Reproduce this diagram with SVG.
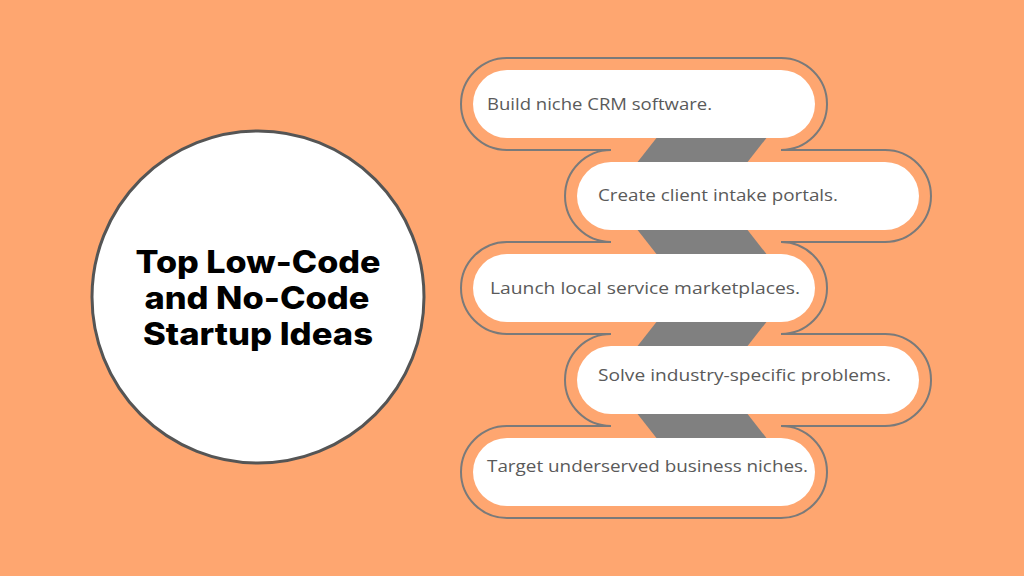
<svg xmlns="http://www.w3.org/2000/svg" width="1024" height="576" viewBox="0 0 1024 576">
<style>
.out{fill:none;stroke:#7a7a7a;stroke-width:2}
.pill{fill:#ffffff}
.band{fill:#808080}
.lbl{font-family:"Open Sans","Liberation Sans",sans-serif;font-size:17px;fill:#5a5a5a}
.ttl{font-family:Inter,"Liberation Sans",sans-serif;font-size:31px;font-weight:800;fill:#000000;text-anchor:middle}
</style>
<rect width="1024" height="576" fill="#fea670"/>
<g id="center">
<circle cx="258" cy="297" r="166" fill="#ffffff" stroke="#555555" stroke-width="3"/>
<text class="ttl" x="258" y="273" textLength="245" lengthAdjust="spacingAndGlyphs">Top Low-Code</text>
<text class="ttl" x="257" y="309" textLength="225" lengthAdjust="spacingAndGlyphs">and No-Code</text>
<text class="ttl" x="258" y="345" textLength="230" lengthAdjust="spacingAndGlyphs">Startup Ideas</text>
</g>
<g id="connectors">
<polygon class="band" points="658,136 768,136 746,164 636,164"/>
<polygon class="band" points="636,228 746,228 768,256 658,256"/>
<polygon class="band" points="658,320 768,320 746,348 636,348"/>
<polygon class="band" points="636,412 746,412 768,440 658,440"/>
</g>
<g id="idea1">
<path class="out" d="M611,150 H507 A46,46 0 0 1 507,58 H781 A46,46 0 0 1 781,150"/>
<rect class="pill" x="473" y="70" width="342" height="68" rx="34"/>
<text class="lbl" x="487" y="110" textLength="225" lengthAdjust="spacingAndGlyphs">Build niche CRM software.</text>
</g>
<g id="idea2">
<path class="out" d="M781,150 H885 A46,46 0 0 1 885,242 H781 M611,150 A46,46 0 0 0 611,242"/>
<rect class="pill" x="577" y="162" width="342" height="68" rx="34"/>
<text class="lbl" x="598" y="201" textLength="240" lengthAdjust="spacingAndGlyphs">Create client intake portals.</text>
</g>
<g id="idea3">
<path class="out" d="M611,242 H507 A46,46 0 0 0 507,334 H611 M781,242 A46,46 0 0 1 781,334"/>
<rect class="pill" x="473" y="254" width="342" height="68" rx="34"/>
<text class="lbl" x="490" y="294" textLength="310" lengthAdjust="spacingAndGlyphs">Launch local service marketplaces.</text>
</g>
<g id="idea4">
<path class="out" d="M781,334 H885 A46,46 0 0 1 885,426 H781 M611,334 A46,46 0 0 0 611,426"/>
<rect class="pill" x="577" y="346" width="342" height="68" rx="34"/>
<text class="lbl" x="598" y="381" textLength="293" lengthAdjust="spacingAndGlyphs">Solve industry-specific problems.</text>
</g>
<g id="idea5">
<path class="out" d="M611,426 H507 A46,46 0 0 0 507,518 H781 A46,46 0 0 0 781,426"/>
<rect class="pill" x="473" y="438" width="342" height="68" rx="34"/>
<text class="lbl" x="487" y="472" textLength="321" lengthAdjust="spacingAndGlyphs">Target underserved business niches.</text>
</g>
</svg>
